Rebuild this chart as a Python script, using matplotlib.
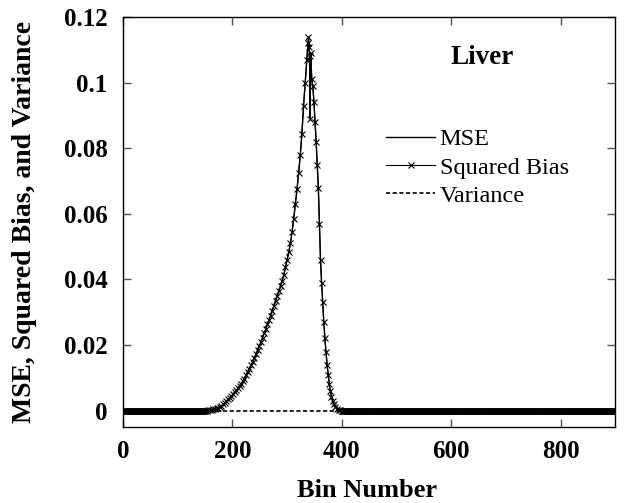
import matplotlib
matplotlib.use("Agg")
import matplotlib.pyplot as plt
import numpy as np

plt.rcParams['font.family'] = ['Liberation Serif', 'DejaVu Serif']

# rising edge, every 3 bins
rise_bins = list(range(150, 334, 3))
rise_bias = [0.0000, 0.0000, 0.0001, 0.0002, 0.0003, 0.0004, 0.0005, 0.0007,
             0.0009, 0.0012, 0.0015, 0.0019, 0.0024, 0.0029, 0.0034, 0.0039,
             0.0044, 0.0050, 0.0056, 0.0062, 0.0068, 0.0075, 0.0082, 0.0089,
             0.0098, 0.0108, 0.0118, 0.0128, 0.0139, 0.0149, 0.0160, 0.0172,
             0.0184, 0.0196, 0.0209, 0.0222, 0.0236, 0.0250, 0.0263, 0.0277,
             0.0290, 0.0305, 0.0320, 0.0335, 0.0350, 0.0365, 0.0380, 0.0396,
             0.0415, 0.0437, 0.0460, 0.0484, 0.0510, 0.0545, 0.0585, 0.0630,
             0.0675, 0.0725, 0.0780, 0.0845, 0.0930, 0.1000]
# peak and falling edge
fall_bins = [336, 338, 339, 340, 341, 342, 343, 345, 347, 349, 351, 353, 355,
             357, 359, 361, 363, 365, 367, 369, 371, 373, 375, 377, 379, 381,
             383, 385, 388, 391, 394, 397, 400]
fall_bias = [0.107, 0.112, 0.114, 0.111, 0.108, 0.089, 0.109, 0.101, 0.099,
             0.094, 0.088, 0.082, 0.075, 0.068, 0.057, 0.046, 0.039, 0.033,
             0.027, 0.022, 0.018, 0.014, 0.011, 0.008, 0.006, 0.0043, 0.003,
             0.002, 0.0012, 0.0006, 0.0003, 0.0001, 0.0]
# everything else sits at zero
flat_left = list(range(0, 150))
flat_right = list(range(401, 901))

bins = np.array(flat_left + rise_bins + fall_bins + flat_right)
bias = np.array([0.0] * len(flat_left) + rise_bias + fall_bias
                + [0.0] * len(flat_right))
mse = bias.copy()  # variance is ~0, so MSE equals squared bias
variance = np.zeros(len(bins))

fig = plt.figure(figsize=(6.29, 5.03), dpi=100)
ax = fig.add_axes([0.1955, 0.151, 0.783, 0.815])

ax.plot(bins, variance, color='black', linestyle=(0, (2.5, 1.5)), lw=1.2,
        label='Variance', zorder=1)
ax.plot(bins, bias, color='black', marker='x', ms=5, mew=0.8, lw=0.8,
        label='Squared Bias', zorder=2)
ax.plot(bins, mse, color='black', lw=1.0, label='MSE', zorder=3)

ax.set_xlim(0, 900)
ax.set_ylim(-0.005, 0.12)
ax.set_xticks([0, 200, 400, 600, 800])
ax.set_yticks([0, 0.02, 0.04, 0.06, 0.08, 0.1, 0.12])
ax.set_yticklabels(['0', '0.02', '0.04', '0.06', '0.08', '0.1', '0.12'])
ax.tick_params(direction='in', length=6, width=1, color='#555555',
               top=True, right=True, labelsize=18)
ax.tick_params(axis='y', pad=11)
ax.tick_params(axis='x', pad=9)
for lab in ax.get_xticklabels() + ax.get_yticklabels():
    lab.set_fontweight('bold')
for s in ax.spines.values():
    s.set_linewidth(1.0)

ax.set_xlabel('Bin Number', fontsize=19, fontweight='bold')
ax.set_ylabel('MSE, Squared Bias, and Variance', fontsize=20,
              fontweight='bold')
ax.xaxis.set_label_coords(0.496, -0.154)
ax.xaxis.label.set_va('center')
ax.yaxis.set_label_coords(-0.2, 0.5)
ax.yaxis.label.set_va('center')

ax.text(657, 0.1078, 'Liver', fontsize=19.5, fontweight='bold',
        ha='center', va='center')

h, l = ax.get_legend_handles_labels()
ax.legend(h[::-1], l[::-1], loc='upper left', bbox_to_anchor=(0.51, 0.758),
          frameon=False, fontsize=17.5, handlelength=2.0, handletextpad=0.2,
          labelspacing=0.25, borderpad=0)

fig.savefig('out.png', dpi=100)
